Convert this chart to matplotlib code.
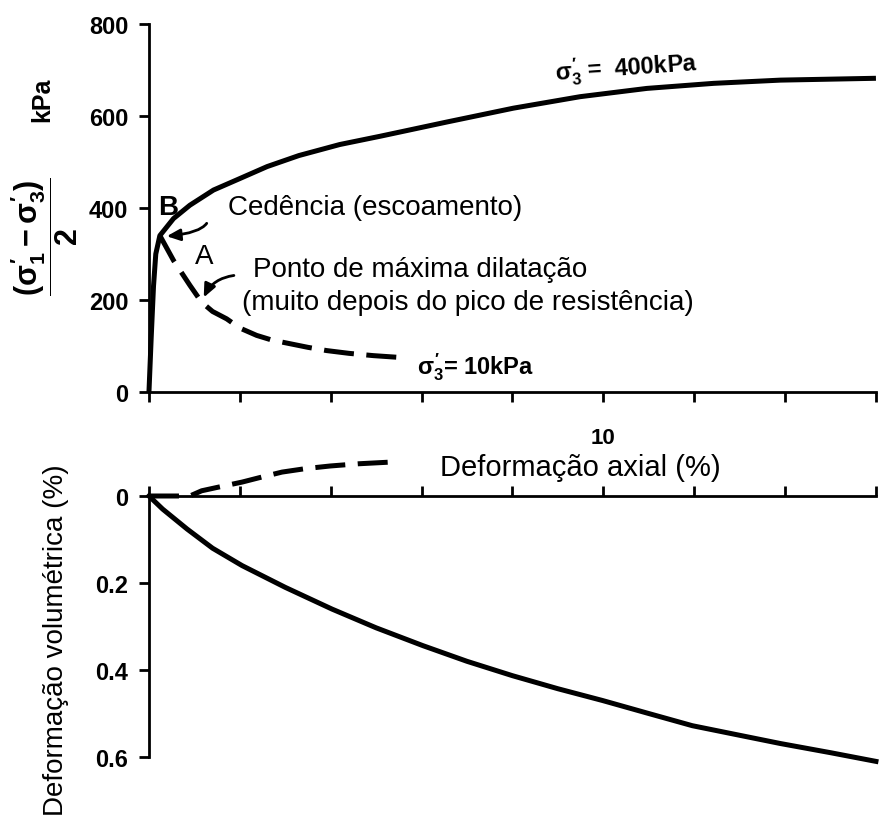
import matplotlib
matplotlib.use("Agg")
import matplotlib.pyplot as plt

# stress curves (axial strain %, (s1'-s3')/2 kPa)
strain_400 = [0, 0.05, 0.1, 0.15, 0.24, 0.54, 0.9, 1.42, 2.0, 2.6, 3.3, 4.2, 5.09,
              6.56, 8.02, 9.49, 10.96, 12.43, 13.9, 16.0]
q_400 = [0, 120, 230, 300, 340, 377, 406, 439, 464, 490, 514, 538, 556,
         587, 617, 642, 660, 671, 678, 682]

strain_10 = [0.24, 0.54, 0.9, 1.16, 1.4, 1.71, 2.0, 2.37, 2.7, 3.1, 3.5, 3.91, 4.4, 4.94, 5.53]
q_10 = [340, 286, 232, 195, 175, 159, 139, 123, 113, 105, 97, 90, 84, 79, 75]

# volumetric strain curves (%)
vstrain_400 = [0, 0.3, 0.84, 1.4, 2.05, 3.0, 4.03, 5.0, 6.03, 7.0, 8.0, 9.0, 9.98,
               11.0, 11.96, 13.0, 13.9, 15.0, 16.0]
vol_400 = [0, 0.03, 0.076, 0.12, 0.16, 0.21, 0.26, 0.303, 0.344, 0.38, 0.413, 0.443, 0.47,
           0.5, 0.528, 0.55, 0.569, 0.59, 0.61]

vstrain_10 = [0, 0.9, 1.16, 1.6, 2.05, 2.5, 2.93, 3.45, 3.99, 4.6, 5.33]
vol_10 = [0, 0, -0.012, -0.022, -0.032, -0.044, -0.055, -0.063, -0.069, -0.074, -0.078]

x_ticks = [0, 2, 4, 6, 8, 10, 12, 14, 16]
x_ticklabels = ['', '', '', '', '', '10', '', '', '']
q_ticks = [0, 200, 400, 600, 800]
vol_ticks = [0, 0.2, 0.4, 0.6]
vol_ticklabels = ['0', '0.2', '0.4', '0.6']

plt.rcParams['font.family'] = ['Liberation Sans', 'DejaVu Sans']
plt.rcParams['mathtext.fontset'] = 'custom'
plt.rcParams['mathtext.rm'] = 'Liberation Sans:bold'
plt.rcParams['mathtext.it'] = 'Liberation Sans:bold'
plt.rcParams['mathtext.bf'] = 'Liberation Sans:bold'

fig = plt.figure(figsize=(8.83, 8.28), dpi=100)
ax1 = fig.add_axes([0.1687, 0.5254, 0.8233, 0.4444])
ax2 = fig.add_axes([0.1687, 0.0845, 0.8233, 0.3678])
ax2.patch.set_visible(False)

lw = 3.6
# --- upper panel ---
ax1.plot(strain_400, q_400, color='black', lw=lw, clip_on=False, solid_capstyle='butt')
ax1.plot(strain_10, q_10, color='black', lw=lw, dashes=(6, 2.5), clip_on=False)
ax1.set_xlim(0, 16)
ax1.set_ylim(0, 800)
for s in ['top', 'right']:
    ax1.spines[s].set_visible(False)
for s in ['left', 'bottom']:
    ax1.spines[s].set_linewidth(2)
ax1.set_xticks(x_ticks)
ax1.set_xticklabels(x_ticklabels)
ax1.set_yticks(q_ticks)
ax1.tick_params(axis='x', direction='out', length=7, width=2, pad=18, labelsize=16)
ax1.tick_params(axis='y', direction='out', length=7, width=2, pad=8, labelsize=17)
for lab in ax1.get_xticklabels() + ax1.get_yticklabels():
    lab.set_fontweight('bold')

ax1.text(0.42, 402, 'B', fontsize=20, fontweight='bold', ha='center', va='center')
ax1.text(1.22, 296, 'A', fontsize=20, ha='center', va='center')
ax1.text(1.74, 402, 'Cedência (escoamento)', fontsize=20, ha='left', va='center')
ax1.text(2.3, 267, 'Ponto de máxima dilatação', fontsize=20, ha='left', va='center')
ax1.text(2.05, 196, '(muito depois do pico de resistência)', fontsize=20, ha='left', va='center')
ax1.text(10.5, 706, r"$\sigma_3'$ =  400kPa", fontsize=17, fontweight='bold',
         ha='center', va='center', rotation=4)
ax1.text(5.9, 57, r"$\sigma_3'$= 10kPa", fontsize=17, fontweight='bold',
         ha='left', va='center')

ax1.annotate('', xy=(0.33, 338), xytext=(1.3, 372),
             arrowprops=dict(arrowstyle='-|>,head_length=0.8,head_width=0.35', color='black',
                             lw=2, connectionstyle='angle3,angleA=-110,angleB=5'))
ax1.annotate('', xy=(1.18, 200), xytext=(1.93, 254),
             arrowprops=dict(arrowstyle='-|>,head_length=0.8,head_width=0.35', color='black',
                             lw=2, connectionstyle='arc3,rad=0.3'))

# --- lower panel ---
ax2.plot(vstrain_400, vol_400, color='black', lw=lw, clip_on=False)
ax2.plot(vstrain_10, vol_10, color='black', lw=lw, dashes=(6, 2.5), clip_on=False)
ax2.set_xlim(0, 16)
ax2.set_ylim(0.6, -0.1)
ax2.spines['bottom'].set_visible(False)
ax2.spines['right'].set_visible(False)
ax2.spines['top'].set_position(('data', 0))
ax2.spines['top'].set_linewidth(2)
ax2.spines['left'].set_linewidth(2)
ax2.spines['left'].set_bounds(0, 0.6)
ax2.xaxis.set_ticks_position('top')
ax2.set_xticks(x_ticks)
ax2.set_xticklabels([])
ax2.set_yticks(vol_ticks)
ax2.set_yticklabels(vol_ticklabels)
ax2.tick_params(axis='x', direction='out', length=7, width=2)
ax2.tick_params(axis='y', direction='out', length=7, width=2, pad=8, labelsize=17)
for lab in ax2.get_yticklabels():
    lab.set_fontweight('bold')

# axis titles
fig.text(580 / 883, 1 - 468 / 828, 'Deformação axial (%)', fontsize=21,
         ha='center', va='center')
fig.text(44 / 883, 1 - 237 / 828, r"$\dfrac{(\sigma_1' - \sigma_3')}{2}$", fontsize=22,
         rotation=90, ha='center', va='center')
fig.text(42 / 883, 1 - 100 / 828, 'kPa', fontsize=18, fontweight='bold',
         rotation=90, ha='center', va='center')
fig.text(56 / 883, 1 - 640 / 828, 'Deformação volumétrica (%)', fontsize=20,
         rotation=90, ha='center', va='center')

fig.savefig('out.png', dpi=100)
